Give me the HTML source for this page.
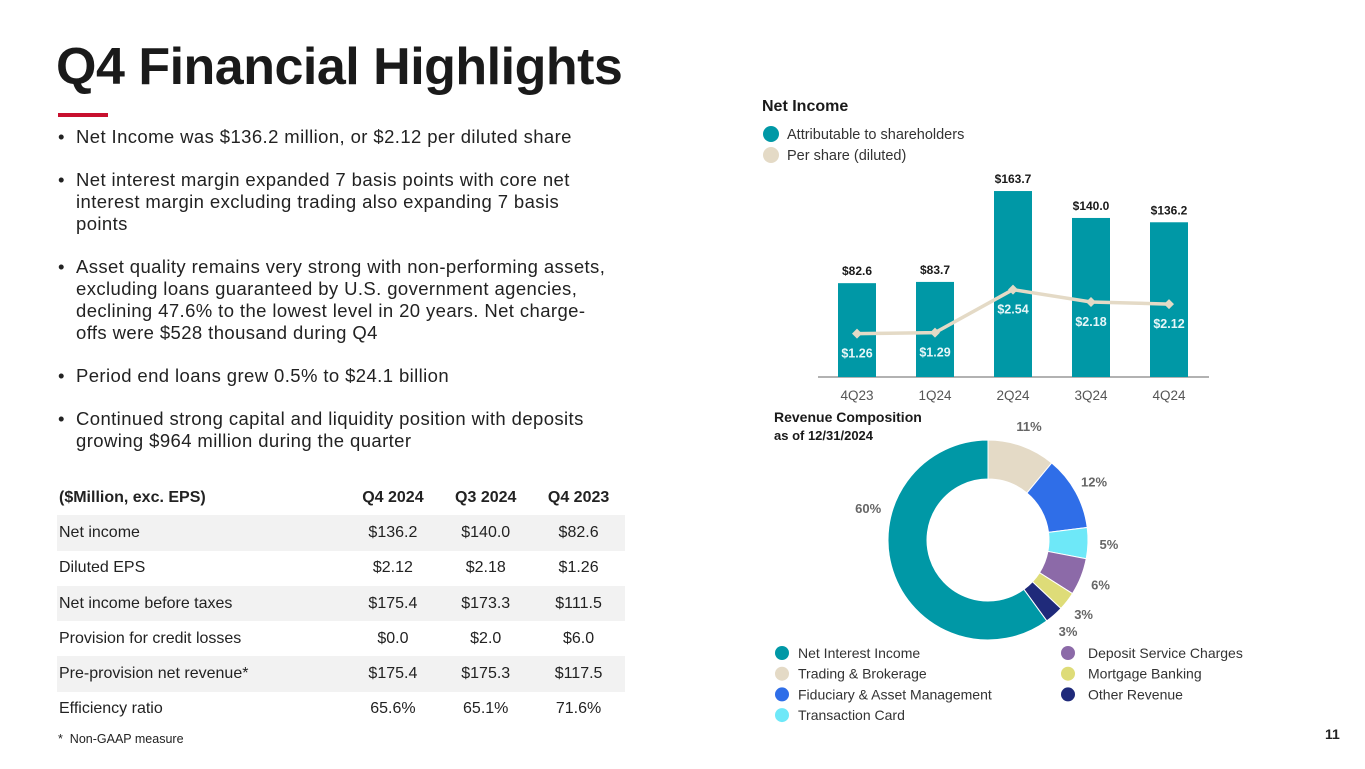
<!DOCTYPE html>
<html><head><meta charset="utf-8"><style>
body{margin:0;width:1365px;height:769px;background:#fff;font-family:"Liberation Sans",sans-serif;position:relative;overflow:hidden;color:#222}
.a{position:absolute}
h1{position:absolute;left:56px;top:37px;margin:0;font-size:52px;font-weight:bold;color:#1a1a1a;letter-spacing:-0.5px}
ul{position:absolute;left:58px;top:126px;margin:0;padding:0;list-style:none;width:600px;font-size:18.5px;line-height:22px;color:#222;letter-spacing:0.4px;white-space:nowrap}
ul li{position:relative;padding-left:18px;margin-bottom:21px}
ul li:before{content:"•";position:absolute;left:0}
table{position:absolute;left:57px;top:480px;border-collapse:collapse;width:568px;font-size:16px;color:#222}
td{height:35.3px;padding:0}
td:first-child{padding-left:2px}
td.c{text-align:center}
tr.s td{background:#f2f2f2}
</style></head><body>
<h1>Q4 Financial Highlights</h1>
<div class="a" style="left:58px;top:113px;width:50px;height:4px;background:#c8102e"></div>
<ul>
<li>Net Income was $136.2 million, or $2.12 per diluted share</li>
<li>Net interest margin expanded 7 basis points with core net<br>interest margin excluding trading also expanding 7 basis<br>points</li>
<li>Asset quality remains very strong with non-performing assets,<br>excluding loans guaranteed by U.S. government agencies,<br>declining 47.6% to the lowest level in 20 years. Net charge-<br>offs were $528 thousand during Q4</li>
<li>Period end loans grew 0.5% to $24.1 billion</li>
<li>Continued strong capital and liquidity position with deposits<br>growing $964 million during the quarter</li>
</ul>
<table>
<tr style="font-weight:bold"><td>($Million, exc. EPS)</td><td class="c">Q4 2024</td><td class="c">Q3 2024</td><td class="c">Q4 2023</td></tr>
<tr class="s"><td>Net income</td><td class="c">$136.2</td><td class="c">$140.0</td><td class="c">$82.6</td></tr>
<tr><td>Diluted EPS</td><td class="c">$2.12</td><td class="c">$2.18</td><td class="c">$1.26</td></tr>
<tr class="s"><td>Net income before taxes</td><td class="c">$175.4</td><td class="c">$173.3</td><td class="c">$111.5</td></tr>
<tr><td>Provision for credit losses</td><td class="c">$0.0</td><td class="c">$2.0</td><td class="c">$6.0</td></tr>
<tr class="s"><td>Pre-provision net revenue*</td><td class="c">$175.4</td><td class="c">$175.3</td><td class="c">$117.5</td></tr>
<tr><td>Efficiency ratio</td><td class="c">65.6%</td><td class="c">65.1%</td><td class="c">71.6%</td></tr>
</table>
<div class="a" style="left:58px;top:732px;font-size:12.5px;color:#222">*&nbsp; Non-GAAP measure</div>
<div class="a" style="left:1325px;top:726px;font-size:14px;font-weight:bold;color:#222">11</div>
<svg class="a" style="left:0;top:0" width="1365" height="769" font-family="Liberation Sans, sans-serif">
<text x="762" y="111" font-size="16" font-weight="bold" fill="#1a1a1a">Net Income</text>
<g><circle cx="771" cy="134" r="8" fill="#0098a6"/><text x="787" y="139" font-size="14.5" fill="#333">Attributable to shareholders</text></g>
<g><circle cx="771" cy="155" r="8" fill="#e4dac6"/><text x="787" y="160" font-size="14.5" fill="#333">Per share (diluted)</text></g>
<g id="bars"></g>
<text x="774" y="422" font-size="14" font-weight="bold" fill="#1a1a1a">Revenue Composition</text>
<text x="774" y="440" font-size="13" font-weight="bold" fill="#1a1a1a">as of 12/31/2024</text>
<g id="donut"></g>
<g id="dleg"></g>
</svg>
<script>
const quarters=["4Q23","1Q24","2Q24","3Q24","4Q24"];
const netIncome=[82.6,83.7,163.7,140.0,136.2];
const eps=[1.26,1.29,2.54,2.18,2.12];
const segNames=["Trading & Brokerage","Fiduciary & Asset Management","Transaction Card","Deposit Service Charges","Mortgage Banking","Other Revenue","Net Interest Income"];
const segValues=[11,12,5,6,3,3,60];
const segColors=["#e4dac6","#2f6ee8","#6ee8f8","#8c6aa8","#dedc78","#1f2a7a","#0098a6"];
const NS="http://www.w3.org/2000/svg";
function mk(t,a,p){const e=document.createElementNS(NS,t);for(const k in a)e.setAttribute(k,a[k]);p.appendChild(e);return e;}
const base=377,xc=i=>857+i*78,yB=v=>base-v*1.136,yE=v=>base-v*34.4;
const g=document.getElementById('bars');
const ax=mk('line',{x1:818,x2:1209,y1:base,y2:base,stroke:'#999','stroke-width':1.5},g);


quarters.forEach((q,i)=>{
 const r=mk('rect',{x:xc(i)-19,y:yB(netIncome[i]),width:38,height:base-yB(netIncome[i]),fill:'#0098a6'},g);
 
 
 const t=mk('text',{x:xc(i),y:yB(netIncome[i])-8,'text-anchor':'middle','font-size':12,'font-weight':'bold',fill:'#1a1a1a'},g);t.textContent='$'+netIncome[i].toFixed(1);
 
 
 const xl=mk('text',{x:xc(i),y:400,'text-anchor':'middle','font-size':13.5,fill:'#555'},g);xl.textContent=q;
 
 
});
const pl=mk('polyline',{points:eps.map((v,i)=>xc(i)+','+yE(v)).join(' '),fill:'none',stroke:'#e4dac6','stroke-width':3.5},g);


eps.forEach((v,i)=>{
 const x=xc(i),y=yE(v);
 const d=mk('polygon',{points:`${x},${y-5} ${x+5},${y} ${x},${y+5} ${x-5},${y}`,fill:'#e4dac6'},g);
 
 
 const t=mk('text',{x:x,y:y+24,'text-anchor':'middle','font-size':12.5,'font-weight':'bold',fill:'#e6f6f8'},g);t.textContent='$'+v.toFixed(2);
 
 
});
const dg=document.getElementById('donut');
const cx=988,cy=540,R=100,r0=61;
let acc=0;const tot=segValues.reduce((a,b)=>a+b,0);
const pt=(a,rr)=>[cx+rr*Math.sin(a),cy-rr*Math.cos(a)];
segValues.forEach((v,i)=>{
 const a0=acc/tot*2*Math.PI;acc+=v;const a1=acc/tot*2*Math.PI;
 const L=(a1-a0)>Math.PI?1:0;
 const [x0,y0]=pt(a0,R),[x1,y1]=pt(a1,R),[x2,y2]=pt(a1,r0),[x3,y3]=pt(a0,r0);
 const p=mk('path',{d:`M${x0},${y0}A${R},${R} 0 ${L} 1 ${x1},${y1}L${x2},${y2}A${r0},${r0} 0 ${L} 0 ${x3},${y3}Z`,fill:segColors[i],stroke:'#fff','stroke-width':1},dg);
 
 
 let am=(a0+a1)/2, lr=121;
 if(v>50){am=a1-0.417*Math.PI;lr=124;}
 const [lx,ly]=pt(am,lr);
 const t=mk('text',{x:lx,y:ly+5,'text-anchor':'middle','font-size':13,'font-weight':'bold',fill:'#666'},dg);t.textContent=v+'%';
 
 
});
const lg=document.getElementById('dleg');
const order=[6,0,1,2,3,4,5];
order.forEach((si,k)=>{
 const col=k<4?0:1,row=k<4?k:k-4;
 const x=col?1068:782,y=653+row*20.7;
 const c=mk('circle',{cx:x,cy:y,r:7,fill:segColors[si]},lg);
 
 
 const t=mk('text',{x:x+16+(col?4:0),y:y+5,'font-size':14,fill:'#333'},lg);t.textContent=segNames[si];
 
 
});
</script>
</body></html>
